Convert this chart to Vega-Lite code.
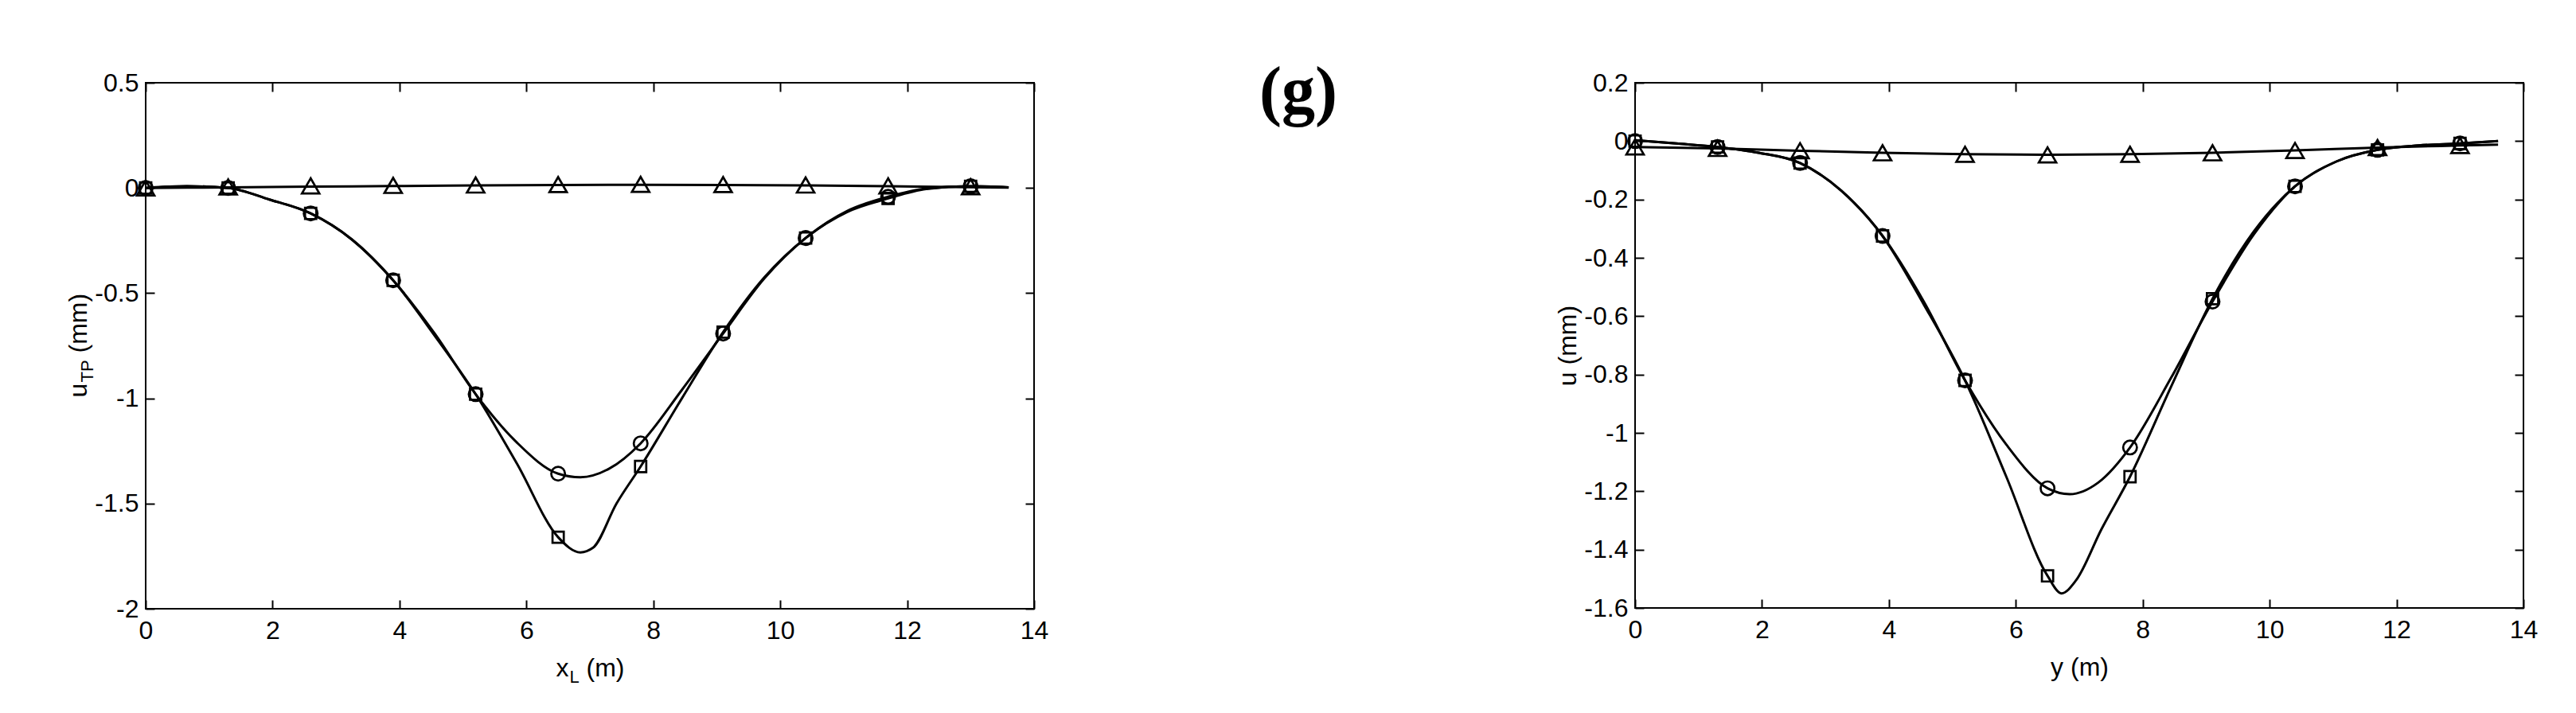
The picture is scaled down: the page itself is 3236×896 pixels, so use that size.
{
  "$schema": "https://vega.github.io/schema/vega-lite/v6.json",
  "background": "white",
  "autosize": {"type": "pad"},
  "padding": {"left": 81, "top": 75, "right": 0, "bottom": 0},
  "title": {"text": "(g)", "font": "Liberation Serif", "fontWeight": "bold", "fontSize": 84, "color": "black", "anchor": "middle", "offset": -78, "dx": -4},
  "spacing": 634,
  "datasets": {
    "leftLines": [
      {"x": 0, "u": 0, "s": "c"}, {"x": 0.65, "u": 0.008, "s": "c"}, {"x": 1.3, "u": 0.0, "s": "c"}, {"x": 1.95, "u": -0.055, "s": "c"}, {"x": 2.6, "u": -0.121, "s": "c"}, {"x": 3.25, "u": -0.245, "s": "c"}, {"x": 3.9, "u": -0.439, "s": "c"}, {"x": 4.55, "u": -0.69, "s": "c"}, {"x": 5.2, "u": -0.98, "s": "c"}, {"x": 5.85, "u": -1.21, "s": "c"}, {"x": 6.5, "u": -1.358, "s": "c"}, {"x": 6.85, "u": -1.375, "s": "c"}, {"x": 7.3, "u": -1.335, "s": "c"}, {"x": 7.8, "u": -1.214, "s": "c"}, {"x": 8.45, "u": -0.96, "s": "c"}, {"x": 9.1, "u": -0.692, "s": "c"}, {"x": 9.75, "u": -0.43, "s": "c"}, {"x": 10.4, "u": -0.238, "s": "c"}, {"x": 11.05, "u": -0.11, "s": "c"}, {"x": 11.7, "u": -0.042, "s": "c"}, {"x": 12.3, "u": -0.003, "s": "c"}, {"x": 13.0, "u": 0.008, "s": "c"}, {"x": 13.6, "u": 0.003, "s": "c"},
      {"x": 0, "u": 0, "s": "s"}, {"x": 0.65, "u": 0.008, "s": "s"}, {"x": 1.3, "u": 0.0, "s": "s"}, {"x": 1.95, "u": -0.055, "s": "s"}, {"x": 2.6, "u": -0.121, "s": "s"}, {"x": 3.25, "u": -0.245, "s": "s"}, {"x": 3.9, "u": -0.439, "s": "s"}, {"x": 4.55, "u": -0.7, "s": "s"}, {"x": 5.2, "u": -0.98, "s": "s"}, {"x": 5.85, "u": -1.31, "s": "s"}, {"x": 6.5, "u": -1.66, "s": "s"}, {"x": 6.85, "u": -1.732, "s": "s"}, {"x": 7.05, "u": -1.71, "s": "s"}, {"x": 7.42, "u": -1.5, "s": "s"}, {"x": 7.8, "u": -1.324, "s": "s"}, {"x": 8.45, "u": -1.0, "s": "s"}, {"x": 9.1, "u": -0.685, "s": "s"}, {"x": 9.75, "u": -0.425, "s": "s"}, {"x": 10.4, "u": -0.238, "s": "s"}, {"x": 11.05, "u": -0.115, "s": "s"}, {"x": 11.7, "u": -0.05, "s": "s"}, {"x": 12.3, "u": -0.005, "s": "s"}, {"x": 13.0, "u": 0.008, "s": "s"}, {"x": 13.6, "u": 0.003, "s": "s"},
      {"x": 0, "u": 0, "s": "t"}, {"x": 1.3, "u": 0.003, "s": "t"}, {"x": 2.6, "u": 0.006, "s": "t"}, {"x": 3.9, "u": 0.009, "s": "t"}, {"x": 5.2, "u": 0.012, "s": "t"}, {"x": 6.5, "u": 0.014, "s": "t"}, {"x": 7.8, "u": 0.015, "s": "t"}, {"x": 9.1, "u": 0.014, "s": "t"}, {"x": 10.4, "u": 0.012, "s": "t"}, {"x": 11.7, "u": 0.008, "s": "t"}, {"x": 13.0, "u": 0.004, "s": "t"}, {"x": 13.6, "u": 0.002, "s": "t"}
    ],
    "leftPts": [
      {"x": 0, "u": 0, "s": "c"}, {"x": 1.3, "u": 0, "s": "c"}, {"x": 2.6, "u": -0.121, "s": "c"}, {"x": 3.9, "u": -0.439, "s": "c"}, {"x": 5.2, "u": -0.98, "s": "c"}, {"x": 6.5, "u": -1.358, "s": "c"}, {"x": 7.8, "u": -1.214, "s": "c"}, {"x": 9.1, "u": -0.692, "s": "c"}, {"x": 10.4, "u": -0.238, "s": "c"}, {"x": 11.7, "u": -0.042, "s": "c"}, {"x": 13.0, "u": 0.008, "s": "c"},
      {"x": 0, "u": 0, "s": "s"}, {"x": 1.3, "u": 0, "s": "s"}, {"x": 2.6, "u": -0.121, "s": "s"}, {"x": 3.9, "u": -0.439, "s": "s"}, {"x": 5.2, "u": -0.98, "s": "s"}, {"x": 6.5, "u": -1.66, "s": "s"}, {"x": 7.8, "u": -1.324, "s": "s"}, {"x": 9.1, "u": -0.685, "s": "s"}, {"x": 10.4, "u": -0.238, "s": "s"}, {"x": 11.7, "u": -0.05, "s": "s"}, {"x": 13.0, "u": 0.008, "s": "s"},
      {"x": 0, "u": 0, "s": "t"}, {"x": 1.3, "u": 0.005, "s": "t"}, {"x": 2.6, "u": 0.01, "s": "t"}, {"x": 3.9, "u": 0.012, "s": "t"}, {"x": 5.2, "u": 0.014, "s": "t"}, {"x": 6.5, "u": 0.016, "s": "t"}, {"x": 7.8, "u": 0.017, "s": "t"}, {"x": 9.1, "u": 0.016, "s": "t"}, {"x": 10.4, "u": 0.014, "s": "t"}, {"x": 11.7, "u": 0.01, "s": "t"}, {"x": 13.0, "u": 0.006, "s": "t"}
    ],
    "rightLines": [
      {"x": 0, "u": 0.003, "s": "c"}, {"x": 0.65, "u": -0.008, "s": "c"}, {"x": 1.3, "u": -0.02, "s": "c"}, {"x": 1.95, "u": -0.04, "s": "c"}, {"x": 2.6, "u": -0.075, "s": "c"}, {"x": 3.25, "u": -0.17, "s": "c"}, {"x": 3.9, "u": -0.325, "s": "c"}, {"x": 4.55, "u": -0.55, "s": "c"}, {"x": 5.2, "u": -0.82, "s": "c"}, {"x": 5.85, "u": -1.04, "s": "c"}, {"x": 6.5, "u": -1.19, "s": "c"}, {"x": 6.85, "u": -1.21, "s": "c"}, {"x": 7.3, "u": -1.17, "s": "c"}, {"x": 7.8, "u": -1.05, "s": "c"}, {"x": 8.45, "u": -0.81, "s": "c"}, {"x": 9.1, "u": -0.55, "s": "c"}, {"x": 9.75, "u": -0.32, "s": "c"}, {"x": 10.4, "u": -0.155, "s": "c"}, {"x": 11.05, "u": -0.07, "s": "c"}, {"x": 11.7, "u": -0.03, "s": "c"}, {"x": 12.35, "u": -0.015, "s": "c"}, {"x": 13.0, "u": -0.008, "s": "c"}, {"x": 13.6, "u": 0.0, "s": "c"},
      {"x": 0, "u": 0.003, "s": "s"}, {"x": 0.65, "u": -0.008, "s": "s"}, {"x": 1.3, "u": -0.02, "s": "s"}, {"x": 1.95, "u": -0.04, "s": "s"}, {"x": 2.6, "u": -0.075, "s": "s"}, {"x": 3.25, "u": -0.17, "s": "s"}, {"x": 3.9, "u": -0.325, "s": "s"}, {"x": 4.55, "u": -0.56, "s": "s"}, {"x": 5.2, "u": -0.82, "s": "s"}, {"x": 5.85, "u": -1.15, "s": "s"}, {"x": 6.5, "u": -1.49, "s": "s"}, {"x": 6.72, "u": -1.55, "s": "s"}, {"x": 6.95, "u": -1.505, "s": "s"}, {"x": 7.35, "u": -1.33, "s": "s"}, {"x": 7.8, "u": -1.15, "s": "s"}, {"x": 8.45, "u": -0.84, "s": "s"}, {"x": 9.1, "u": -0.54, "s": "s"}, {"x": 9.75, "u": -0.31, "s": "s"}, {"x": 10.4, "u": -0.155, "s": "s"}, {"x": 11.05, "u": -0.07, "s": "s"}, {"x": 11.7, "u": -0.03, "s": "s"}, {"x": 12.35, "u": -0.015, "s": "s"}, {"x": 13.0, "u": -0.008, "s": "s"}, {"x": 13.6, "u": 0.0, "s": "s"},
      {"x": 0, "u": -0.02, "s": "t"}, {"x": 1.3, "u": -0.025, "s": "t"}, {"x": 2.6, "u": -0.033, "s": "t"}, {"x": 3.9, "u": -0.04, "s": "t"}, {"x": 5.2, "u": -0.045, "s": "t"}, {"x": 6.5, "u": -0.047, "s": "t"}, {"x": 7.8, "u": -0.045, "s": "t"}, {"x": 9.1, "u": -0.04, "s": "t"}, {"x": 10.4, "u": -0.032, "s": "t"}, {"x": 11.7, "u": -0.022, "s": "t"}, {"x": 13.0, "u": -0.015, "s": "t"}, {"x": 13.6, "u": -0.012, "s": "t"}
    ],
    "rightPts": [
      {"x": 0, "u": 0, "s": "c"}, {"x": 1.3, "u": -0.02, "s": "c"}, {"x": 2.6, "u": -0.075, "s": "c"}, {"x": 3.9, "u": -0.325, "s": "c"}, {"x": 5.2, "u": -0.82, "s": "c"}, {"x": 6.5, "u": -1.19, "s": "c"}, {"x": 7.8, "u": -1.05, "s": "c"}, {"x": 9.1, "u": -0.55, "s": "c"}, {"x": 10.4, "u": -0.155, "s": "c"}, {"x": 11.7, "u": -0.03, "s": "c"}, {"x": 13.0, "u": -0.008, "s": "c"},
      {"x": 0, "u": 0, "s": "s"}, {"x": 1.3, "u": -0.02, "s": "s"}, {"x": 2.6, "u": -0.075, "s": "s"}, {"x": 3.9, "u": -0.325, "s": "s"}, {"x": 5.2, "u": -0.82, "s": "s"}, {"x": 6.5, "u": -1.49, "s": "s"}, {"x": 7.8, "u": -1.15, "s": "s"}, {"x": 9.1, "u": -0.54, "s": "s"}, {"x": 10.4, "u": -0.155, "s": "s"}, {"x": 11.7, "u": -0.03, "s": "s"}, {"x": 13.0, "u": -0.008, "s": "s"},
      {"x": 0, "u": -0.02, "s": "t"}, {"x": 1.3, "u": -0.025, "s": "t"}, {"x": 2.6, "u": -0.033, "s": "t"}, {"x": 3.9, "u": -0.04, "s": "t"}, {"x": 5.2, "u": -0.045, "s": "t"}, {"x": 6.5, "u": -0.047, "s": "t"}, {"x": 7.8, "u": -0.045, "s": "t"}, {"x": 9.1, "u": -0.04, "s": "t"}, {"x": 10.4, "u": -0.032, "s": "t"}, {"x": 11.7, "u": -0.022, "s": "t"}, {"x": 13.0, "u": -0.015, "s": "t"}
    ]
  },
  "hconcat": [
    {
      "vconcat": [
        {
          "width": 1116,
          "height": 661,
          "layer": [
            {
              "data": {"name": "leftLines"},
              "mark": {"type": "line", "color": "black", "strokeWidth": 3, "interpolate": "monotone"},
              "encoding": {
                "x": {"field": "x", "type": "quantitative", "scale": {"domain": [0, 14], "nice": false, "zero": false},
                  "axis": {"orient": "bottom", "values": [0, 2, 4, 6, 8, 10, 12, 14], "labelExpr": "toString(datum.value)", "tickSize": -11, "labelPadding": 23, "domain": false,
                    "title": "x", "titleX": 515, "titleY": 84, "titleAlign": "left", "titleBaseline": "alphabetic"}},
                "y": {"field": "u", "type": "quantitative", "scale": {"domain": [-2, 0.5], "nice": false, "zero": false},
                  "axis": {"orient": "left", "values": [-2, -1.5, -1, -0.5, 0, 0.5], "labelExpr": "toString(datum.value)", "tickSize": -11, "labelPadding": 20, "domain": false,
                    "title": "u", "titleX": -75, "titleY": 395, "titleAngle": -90, "titleAlign": "left", "titleBaseline": "alphabetic"}},
                "detail": {"field": "s", "type": "nominal"}
              }
            },
            {
              "data": {"name": "leftPts"},
              "transform": [{"filter": "datum.s == 'c'"}],
              "mark": {"type": "point", "shape": "circle", "size": 300, "filled": false, "color": "black", "strokeWidth": 2.7, "opacity": 1},
              "encoding": {
                "x": {"field": "x", "type": "quantitative", "axis": {"orient": "top", "values": [0, 2, 4, 6, 8, 10, 12, 14], "labels": false, "tickSize": -11, "domain": false, "title": null}},
                "y": {"field": "u", "type": "quantitative", "axis": {"orient": "right", "values": [-2, -1.5, -1, -0.5, 0, 0.5], "labels": false, "tickSize": -11, "domain": false, "title": null}}
              }
            },
            {
              "data": {"name": "leftPts"},
              "transform": [{"filter": "datum.s == 's'"}],
              "mark": {"type": "point", "shape": "square", "size": 200, "filled": false, "color": "black", "strokeWidth": 2.7, "opacity": 1},
              "encoding": {
                "x": {"field": "x", "type": "quantitative", "axis": null},
                "y": {"field": "u", "type": "quantitative", "axis": null}
              }
            },
            {
              "data": {"name": "leftPts"},
              "transform": [{"filter": "datum.s == 't'"}],
              "mark": {"type": "point", "shape": "triangle-up", "size": 480, "filled": false, "color": "black", "strokeWidth": 2.7, "opacity": 1},
              "encoding": {
                "x": {"field": "x", "type": "quantitative", "axis": null},
                "y": {"field": "u", "type": "quantitative", "axis": null}
              }
            },
            {
              "data": {"name": "leftPts"},
              "mark": {"type": "point", "opacity": 0},
              "encoding": {
                "x": {"field": "x", "type": "quantitative", "axis": {"orient": "bottom", "labels": false, "ticks": false, "domain": false, "title": "L", "titleFontSize": 22, "titleX": 532, "titleY": 92, "titleAlign": "left", "titleBaseline": "alphabetic"}},
                "y": {"field": "u", "type": "quantitative", "axis": {"orient": "left", "labels": false, "ticks": false, "domain": false, "title": "TP", "titleFontSize": 22, "titleX": -67, "titleY": 376, "titleAngle": -90, "titleAlign": "left", "titleBaseline": "alphabetic"}}
              }
            },
            {
              "data": {"name": "leftPts"},
              "mark": {"type": "point", "opacity": 0},
              "encoding": {
                "x": {"field": "x", "type": "quantitative", "axis": {"orient": "bottom", "labels": false, "ticks": false, "domain": false, "title": "(m)", "titleX": 553, "titleY": 84, "titleAlign": "left", "titleBaseline": "alphabetic"}},
                "y": {"field": "u", "type": "quantitative", "axis": {"orient": "left", "labels": false, "ticks": false, "domain": false, "title": "(mm)", "titleX": -75, "titleY": 339, "titleAngle": -90, "titleAlign": "left", "titleBaseline": "alphabetic"}}
              }
            }
          ],
          "resolve": {"axis": {"x": "independent", "y": "independent"}}
        }
      ]
    },
    {
      "vconcat": [
        {
          "width": 1116,
          "height": 660,
          "layer": [
            {
              "data": {"name": "rightLines"},
              "mark": {"type": "line", "color": "black", "strokeWidth": 3, "interpolate": "monotone"},
              "encoding": {
                "x": {"field": "x", "type": "quantitative", "scale": {"domain": [0, 14], "nice": false, "zero": false},
                  "axis": {"orient": "bottom", "values": [0, 2, 4, 6, 8, 10, 12, 14], "labelExpr": "toString(datum.value)", "tickSize": -11, "labelPadding": 23, "domain": false,
                    "title": "y (m)", "titleX": 558, "titleY": 84, "titleAlign": "center", "titleBaseline": "alphabetic"}},
                "y": {"field": "u", "type": "quantitative", "scale": {"domain": [-1.6, 0.2], "nice": false, "zero": false},
                  "axis": {"orient": "left", "values": [-1.6, -1.4, -1.2, -1, -0.8, -0.6, -0.4, -0.2, 0, 0.2], "labelExpr": "toString(datum.value)", "tickSize": -11, "labelPadding": 20, "domain": false,
                    "title": "u (mm)", "titleX": -75, "titleY": 330, "titleAngle": -90, "titleAlign": "center", "titleBaseline": "alphabetic"}},
                "detail": {"field": "s", "type": "nominal"}
              }
            },
            {
              "data": {"name": "rightPts"},
              "transform": [{"filter": "datum.s == 'c'"}],
              "mark": {"type": "point", "shape": "circle", "size": 300, "filled": false, "color": "black", "strokeWidth": 2.7, "opacity": 1},
              "encoding": {
                "x": {"field": "x", "type": "quantitative", "axis": {"orient": "top", "values": [0, 2, 4, 6, 8, 10, 12, 14], "labels": false, "tickSize": -11, "domain": false, "title": null, "minExtent": 21}},
                "y": {"field": "u", "type": "quantitative", "axis": {"orient": "right", "values": [-1.6, -1.4, -1.2, -1, -0.8, -0.6, -0.4, -0.2, 0, 0.2], "labels": false, "tickSize": -11, "domain": false, "title": null}}
              }
            },
            {
              "data": {"name": "rightPts"},
              "transform": [{"filter": "datum.s == 's'"}],
              "mark": {"type": "point", "shape": "square", "size": 200, "filled": false, "color": "black", "strokeWidth": 2.7, "opacity": 1},
              "encoding": {
                "x": {"field": "x", "type": "quantitative", "axis": null},
                "y": {"field": "u", "type": "quantitative", "axis": null}
              }
            },
            {
              "data": {"name": "rightPts"},
              "transform": [{"filter": "datum.s == 't'"}],
              "mark": {"type": "point", "shape": "triangle-up", "size": 480, "filled": false, "color": "black", "strokeWidth": 2.7, "opacity": 1},
              "encoding": {
                "x": {"field": "x", "type": "quantitative", "axis": null},
                "y": {"field": "u", "type": "quantitative", "axis": null}
              }
            }
          ],
          "resolve": {"axis": {"x": "independent", "y": "independent"}}
        }
      ]
    }
  ],
  "resolve": {"scale": {"x": "independent", "y": "independent"}},
  "config": {
    "font": "Liberation Sans",
    "view": {"stroke": "black", "strokeWidth": 2},
    "axis": {
      "labelFont": "Liberation Sans", "labelFontSize": 32, "labelColor": "black",
      "titleFont": "Liberation Sans", "titleFontSize": 32, "titleFontWeight": "normal", "titleColor": "black",
      "tickColor": "black", "tickWidth": 2, "grid": false, "labelFlush": false, "labelOverlap": false
    }
  }
}
